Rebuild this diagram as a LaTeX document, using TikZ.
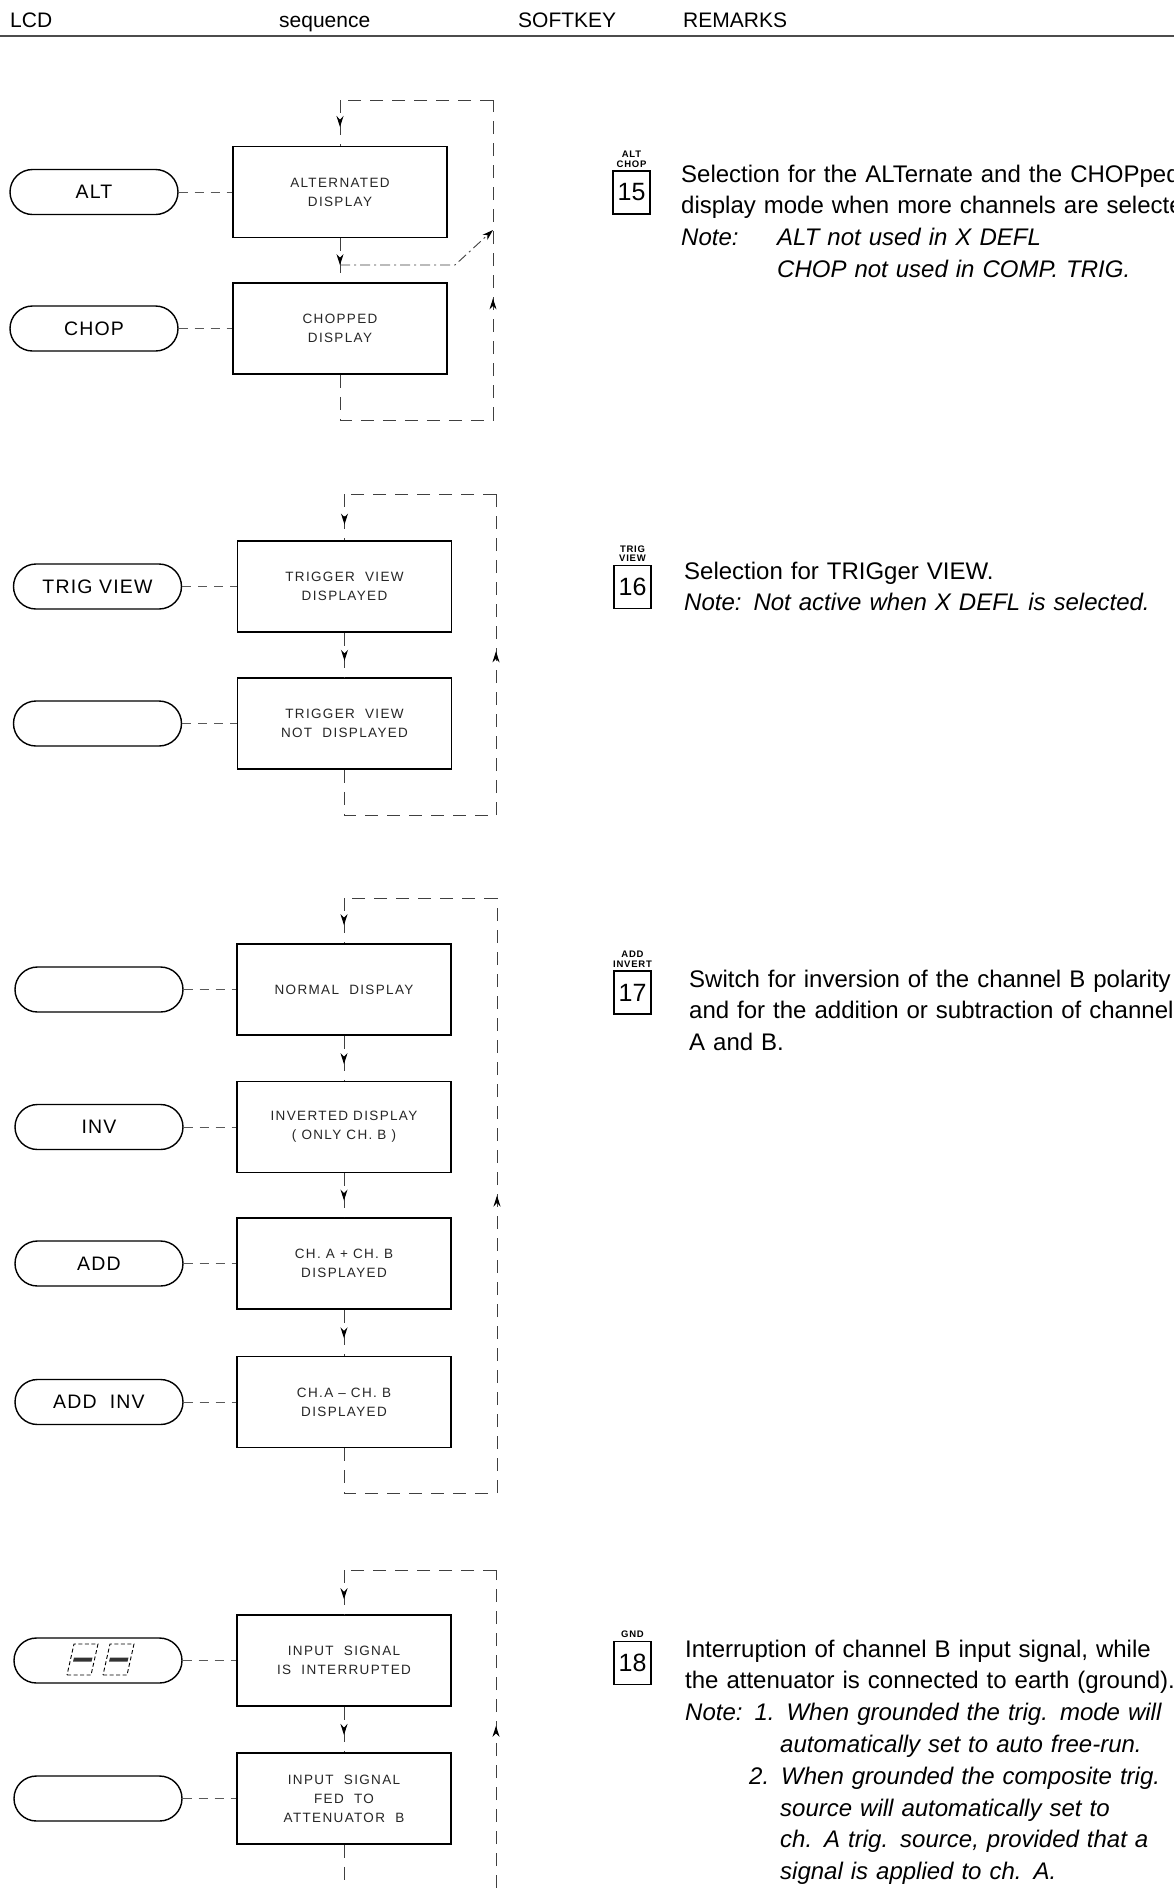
\documentclass[tikz,border=0pt]{standalone}
\usepackage{fontspec}
\setmainfont{Liberation Sans}
\usetikzlibrary{arrows.meta,positioning,decorations.markings}
\newcommand{\dispfont}{\fontsize{13.5}{19}\selectfont\addfontfeatures{LetterSpace=10}}
\newcommand{\lcdfont}{\fontsize{19.5}{24}\selectfont\addfontfeatures{LetterSpace=6}}
\newcommand{\remfont}{\fontsize{24}{31.8}\selectfont}
\newcommand{\headfont}{\fontsize{21}{24}\selectfont}
\newcommand{\keyfont}{\fontsize{25}{28}\selectfont}
\newcommand{\keylblfont}{\fontsize{9.5}{9.5}\selectfont\bfseries\addfontfeatures{LetterSpace=8}}
\tikzstyle{arrow} = [-{Stealth[length=11pt,width=7pt,black]}]
\tikzstyle{dispbox} = [draw, line width=1.5pt, minimum width=214pt, minimum height=91pt, inner sep=0pt, align=center, font=\dispfont, text=black!85]
\tikzstyle{lcdpill} = [draw, line width=1.4pt, rounded corners=22.5pt, minimum width=168pt, minimum height=45pt, inner sep=0pt, font=\lcdfont]
\tikzstyle{loopline} = [line width=1pt, dash pattern=on 13pt off 9pt, black!75]
\tikzstyle{altline} = [line width=0.9pt, dash pattern=on 10pt off 4pt on 2pt off 4pt, black!75]
\tikzstyle{link} = [line width=0.9pt, dash pattern=on 9pt off 7pt, black!65]
\tikzstyle{keybox} = [draw, line width=1.3pt, minimum width=37pt, minimum height=43pt, inner sep=0pt, font=\keyfont]
\tikzstyle{keylbl} = [inner sep=0pt, align=center, font=\keylblfont]
\tikzstyle{remark} = [anchor=base west, inner sep=0pt, text width=700pt, align=left, font=\remfont]
\tikzstyle{colhead} = [anchor=base west, inner sep=0pt, font=\headfont]
\tikzset{midarrow/.style={postaction={decorate}, decoration={markings, mark=at position #1 with {\arrow{Stealth[length=11pt,width=7pt,black]}}}}}

\begin{document}
\begin{tikzpicture}[x=1pt,y=-1pt]
    \fill[white, use as bounding box] (0,0) rectangle (1174,1888);
    % column heads
    \node[colhead] (lcdh) at (10,27) {LCD};
    \node[colhead] (seqh) at (279,27) {sequence};
    \node[colhead] (softh) at (518,27) {SOFTKEY};
    \node[colhead] (remh) at (683,27) {REMARKS};
    \draw[line width=1.2pt, black!70] (0,36) -- (1174,36);

    % ALT / CHOP
    \node[dispbox] (alt) at (340,192) {ALTERNATED\\DISPLAY};
    \node[dispbox] (chop) at (340,328.5) {CHOPPED\\DISPLAY};
    \node[lcdpill] (altlcd) at (94,192) {ALT};
    \node[lcdpill] (choplcd) at (94,328.5) {CHOP};
    \draw[link] (altlcd) -- (alt);
    \draw[link] (choplcd) -- (chop);
    \coordinate (lt1) at (340,100);
    \coordinate (rt1) at (493,100);
    \coordinate (rb1) at (493,420);
    \coordinate (lb1) at (340,420);
    \draw[loopline] (chop.south) -- (lb1) -- (rb1);
    \draw[loopline, midarrow=0.38] (rb1) -- (rt1);
    \draw[loopline] (rt1) -- (lt1);
    \draw[loopline, midarrow=0.59] (lt1) -- (alt.north);
    \draw[loopline, midarrow=0.61] (alt.south) -- (chop.north);
    \coordinate (dd1) at (340,265);
    \coordinate (dd2) at (455,265);
    \coordinate (dd3) at (493,230);
    \draw[altline, arrow] (dd1) -- (dd2) -- (dd3);
    \node[keybox] (k15) at (631.5,192.5) {15};
    \node[keylbl, above=3pt of k15] (k15lbl) {ALT\\CHOP};
    \node[remark] (rem15) at (681,182) {Selection for the ALTernate and the CHOPped\\
        display mode when more channels are selected.\\
        \itshape\makebox[96pt][l]{Note:}ALT not used in X DEFL\\
        \hspace*{96pt}CHOP not used in COMP. TRIG.};

    % TRIG VIEW
    \node[dispbox] (tvon) at (344.5,586.5) {TRIGGER~ VIEW\\DISPLAYED};
    \node[dispbox] (tvoff) at (344.5,723.5) {TRIGGER~ VIEW\\NOT~ DISPLAYED};
    \node[lcdpill] (tvonlcd) at (97.5,586.5) {TRIG VIEW};
    \node[lcdpill] (tvofflcd) at (97.5,723.5) {};
    \draw[link] (tvonlcd) -- (tvon);
    \draw[link] (tvofflcd) -- (tvoff);
    \coordinate (lt2) at (344.5,494);
    \coordinate (rt2) at (496,494);
    \coordinate (rb2) at (496,815);
    \coordinate (lb2) at (344.5,815);
    \draw[loopline] (tvoff.south) -- (lb2) -- (rb2);
    \draw[loopline, midarrow=0.51] (rb2) -- (rt2);
    \draw[loopline] (rt2) -- (lt2);
    \draw[loopline, midarrow=0.66] (lt2) -- (tvon.north);
    \draw[loopline, midarrow=0.63] (tvon.south) -- (tvoff.north);
    \node[keybox] (k16) at (632.5,587) {16};
    \node[keylbl, above=3pt of k16] (k16lbl) {TRIG\\VIEW};
    \node[remark] (rem16) at (684,579) {Selection for TRIGger VIEW.\\
        \itshape Note: Not active when X DEFL is selected.};

    % ADD / INVERT
    \node[dispbox] (norm) at (344,989.5) {NORMAL~ DISPLAY};
    \node[dispbox] (inv) at (344,1127) {INVERTED DISPLAY\\( ONLY CH. B )};
    \node[dispbox] (add) at (344,1263.5) {CH. A + CH. B\\DISPLAYED};
    \node[dispbox] (addinv) at (344,1402) {CH.A -- CH. B\\DISPLAYED};
    \node[lcdpill] (normlcd) at (99,989.5) {};
    \node[lcdpill] (invlcd) at (99,1127) {INV};
    \node[lcdpill] (addlcd) at (99,1263.5) {ADD};
    \node[lcdpill] (addinvlcd) at (99,1402) {ADD~ INV};
    \draw[link] (normlcd) -- (norm);
    \draw[link] (invlcd) -- (inv);
    \draw[link] (addlcd) -- (add);
    \draw[link] (addinvlcd) -- (addinv);
    \coordinate (lt3) at (344,898);
    \coordinate (rt3) at (497,898);
    \coordinate (rb3) at (497,1493);
    \coordinate (lb3) at (344,1493);
    \draw[loopline] (addinv.south) -- (lb3) -- (rb3);
    \draw[loopline, midarrow=0.5] (rb3) -- (rt3);
    \draw[loopline] (rt3) -- (lt3);
    \draw[loopline, midarrow=0.6] (lt3) -- (norm.north);
    \draw[loopline, midarrow=0.63] (norm.south) -- (inv.north);
    \draw[loopline, midarrow=0.62] (inv.south) -- (add.north);
    \draw[loopline, midarrow=0.62] (add.south) -- (addinv.north);
    \node[keybox] (k17) at (632.5,992.5) {17};
    \node[keylbl, above=3pt of k17] (k17lbl) {ADD\\INVERT};
    \node[remark] (rem17) at (689,987) {Switch for inversion of the channel B polarity\\
        and for the addition or subtraction of channels\\
        A and B.};

    % GND
    \node[dispbox] (gndon) at (344,1660.5) {INPUT~ SIGNAL\\IS~ INTERRUPTED};
    \node[dispbox] (gndoff) at (344,1798.5) {INPUT~ SIGNAL\\FED~ TO\\ATTENUATOR~ B};
    \node[lcdpill] (gndonlcd) at (98,1660.5) {};
    \node[lcdpill] (gndofflcd) at (98,1798.5) {};
    \draw[link] (gndonlcd) -- (gndon);
    \draw[link] (gndofflcd) -- (gndoff);
    \foreach \dx in {0,36} {
        \draw[line width=0.9pt, dash pattern=on 4pt off 2.5pt] (67+\dx,1675) -- (91+\dx,1675) -- (98+\dx,1644) -- (74+\dx,1644) -- cycle;
        \fill[black!80] (74+\dx,1657.5) -- (92.5+\dx,1657.5) -- (91.5+\dx,1661.5) -- (73+\dx,1661.5) -- cycle;
    }
    \coordinate (lt4) at (344,1570);
    \coordinate (rt4) at (496,1570);
    \coordinate (rb4) at (496,1888);
    \coordinate (lb4) at (344,1888);
    \draw[loopline] (gndoff.south) -- (lb4);
    \draw[loopline, midarrow=0.51] (rb4) -- (rt4);
    \draw[loopline] (rt4) -- (lt4);
    \draw[loopline, midarrow=0.66] (lt4) -- (gndon.north);
    \draw[loopline, midarrow=0.62] (gndon.south) -- (gndoff.north);
    \node[keybox] (k18) at (632.5,1663) {18};
    \node[keylbl, above=3pt of k18] (k18lbl) {GND};
    \node[remark] (rem18) at (685,1657) {Interruption of channel B input signal, while\\
        the attenuator is connected to earth (ground).\\
        \itshape Note: 1. When grounded the trig. mode will\\
        \hspace*{95pt}automatically set to auto free-run.\\
        \hspace*{64pt}2. When grounded the composite trig.\\
        \hspace*{95pt}source will automatically set to\\
        \hspace*{95pt}ch. A trig. source, provided that a\\
        \hspace*{95pt}signal is applied to ch. A.};
\end{tikzpicture}
\end{document}
